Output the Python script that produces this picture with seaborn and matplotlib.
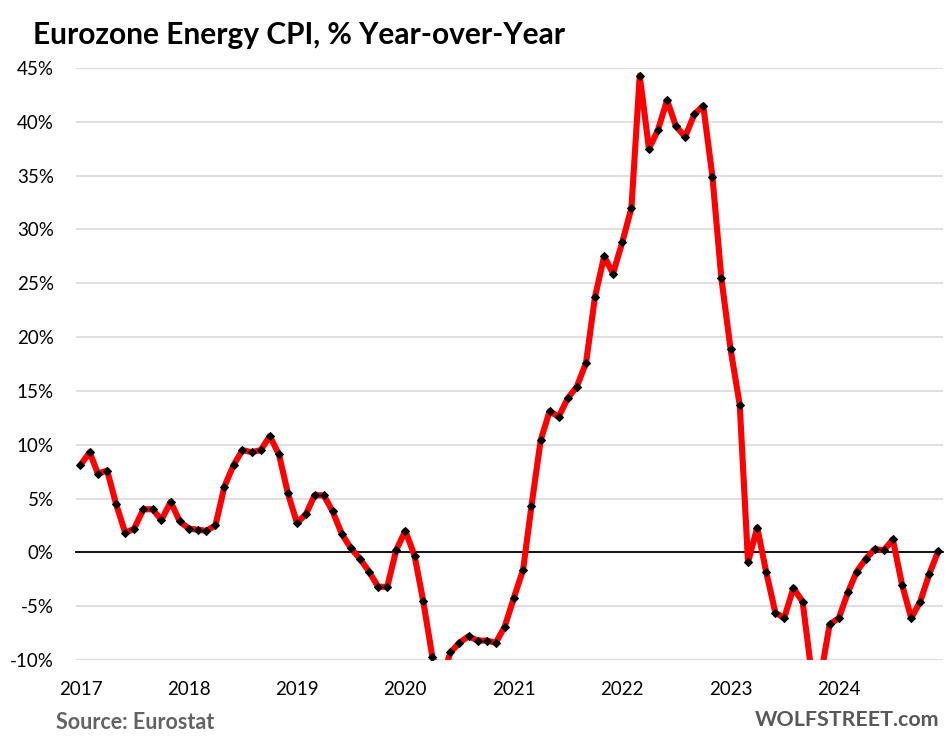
import matplotlib
matplotlib.use("Agg")
import matplotlib.pyplot as plt
import matplotlib.transforms as mtransforms
from matplotlib.ticker import FuncFormatter
import seaborn as sns
import pandas as pd

# Eurozone energy CPI, % year-over-year, Jan 2017 - Dec 2024
start_month = "2017-01-01"
end_month = "2024-12-01"
energy_yoy = [
    8.1, 9.3, 7.3, 7.6, 4.5, 1.8, 2.2, 4.0, 4.0, 3.0, 4.7, 2.9,          # 2017
    2.2, 2.1, 2.0, 2.5, 6.1, 8.1, 9.5, 9.3, 9.5, 10.8, 9.1, 5.5,         # 2018
    2.7, 3.6, 5.3, 5.3, 3.8, 1.7, 0.4, -0.6, -1.8, -3.2, -3.2, 0.2,      # 2019
    2.0, -0.3, -4.5, -9.7, -11.9, -9.3, -8.4, -7.8, -8.2, -8.2, -8.4, -6.9,  # 2020
    -4.2, -1.6, 4.3, 10.4, 13.1, 12.6, 14.3, 15.4, 17.6, 23.7, 27.5, 25.9,   # 2021
    28.8, 32.0, 44.3, 37.5, 39.2, 42.0, 39.6, 38.6, 40.7, 41.5, 34.9, 25.5,  # 2022
    18.9, 13.7, -0.9, 2.3, -1.8, -5.6, -6.1, -3.3, -4.6, -11.2, -11.5, -6.7, # 2023
    -6.1, -3.7, -1.8, -0.6, 0.3, 0.2, 1.2, -3.0, -6.1, -4.6, -2.0, 0.1,      # 2024
]
years = [2017, 2018, 2019, 2020, 2021, 2022, 2023, 2024]
y_ticks = [-10, -5, 0, 5, 10, 15, 20, 25, 30, 35, 40, 45]

months = pd.date_range(start_month, end_month, freq="MS")
# Excel-style: points sit in the middle of each month
df = pd.DataFrame({"date": months + pd.Timedelta(days=15), "yoy": energy_yoy})

sns.set_style("white")
plt.rcParams["font.family"] = ["Lato", "DejaVu Sans"]

fig = plt.figure(figsize=(9.5, 7.47), dpi=100)
ax = fig.add_axes([0.08, 0.1165, 0.9126, 0.7925])

sns.lineplot(data=df, x="date", y="yoy", ax=ax, color="#ff0000", linewidth=4.4,
             marker="D", markersize=4.4, markerfacecolor="black",
             markeredgecolor="black", zorder=3)

ax.set_ylim(-10, 45)
ax.set_xlim(pd.Timestamp("2017-01-01"), pd.Timestamp("2025-01-01"))
ax.set_yticks(y_ticks)
ax.yaxis.set_major_formatter(FuncFormatter(lambda v, p: f"{v:.0f}%"))
ax.yaxis.grid(True, color="#d9d9d9", linewidth=1.2)
ax.set_axisbelow(True)
ax.tick_params(axis="y", length=0, labelsize=13.5, pad=16, labelcolor="black")

# x axis line crosses at 0%, tick marks pointing down, labels at the bottom
for side in ["left", "top", "right"]:
    ax.spines[side].set_visible(False)
ax.spines["bottom"].set_position(("data", 0))
ax.spines["bottom"].set_color("black")
ax.spines["bottom"].set_linewidth(1.3)
year_starts = [pd.Timestamp(f"{y}-01-01") for y in years] + [pd.Timestamp("2025-01-01")]
ax.set_xticks(year_starts)
ax.set_xticklabels([])
ax.tick_params(axis="x", direction="out", length=5, width=1.3, color="black")
ax.set_xlabel("")
ax.set_ylabel("")

trans = mtransforms.blended_transform_factory(ax.transData, ax.transAxes)
for y in years:
    ax.text(pd.Timestamp(f"{y}-01-16"), -0.05, str(y), transform=trans,
            ha="center", va="center", fontsize=13.5, color="black")

fig.text(0.035, 0.953, "Eurozone Energy CPI, % Year-over-Year", fontsize=21.5,
         fontweight="bold", ha="left", va="center", color="black")
fig.text(0.059, 0.033, "Source: Eurostat", fontsize=15.5, fontweight="bold",
         ha="left", va="center", color="#636363")
fig.text(0.989, 0.036, "WOLFSTREET.com", fontsize=15.4, fontweight="bold",
         ha="right", va="center", color="#585858")

fig.savefig("out.png", dpi=100)
